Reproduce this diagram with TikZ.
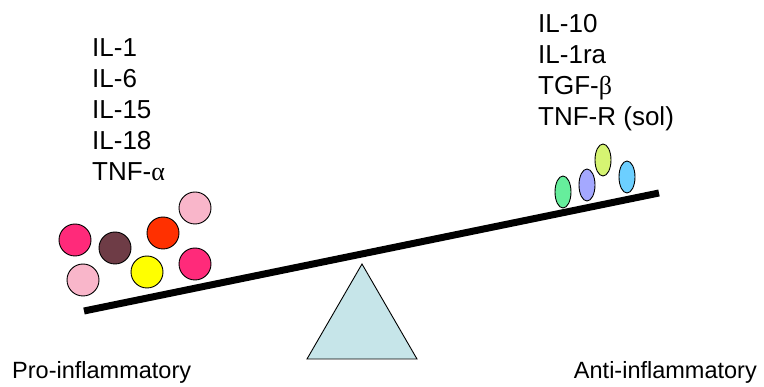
\documentclass[tikz,border=0pt]{standalone}
\usepackage{fontspec}
\setmainfont{Liberation Sans}
\newfontfamily\greekfont{Liberation Serif}
\usetikzlibrary{shapes.geometric}
\definecolor{cmagenta}{HTML}{FF2A7A}
\definecolor{cpink}{HTML}{F9B6CA}
\definecolor{cbrown}{HTML}{6E3C46}
\definecolor{cyellow}{HTML}{FFFF00}
\definecolor{cred}{HTML}{FF3000}
\definecolor{cgreen}{HTML}{66EE9C}
\definecolor{cperi}{HTML}{A4A8FF}
\definecolor{clime}{HTML}{D6F472}
\definecolor{cblue}{HTML}{6CCFFF}
\definecolor{cfulcrum}{HTML}{C6E5E9}
\begin{document}
\begin{tikzpicture}[x=1pt,y=-1pt,
  ball/.style={circle,draw=black,line width=0.9pt,minimum size=32pt,inner sep=0pt},
  egg/.style={ellipse,draw=black,line width=0.9pt,minimum width=16pt,minimum height=32pt,inner sep=0pt},
  cytolist/.style={anchor=north west,align=left,inner sep=0pt,font=\fontsize{26}{31}\selectfont},
  caption/.style={inner sep=0pt,font=\fontsize{23.5}{28}\selectfont}]
\useasboundingbox (0,0) rectangle (764,387);

% fulcrum
\draw[fill=cfulcrum,line width=0.9pt,line join=miter] (362,264) -- (417,359) -- (307,359) -- cycle;

% beam
\coordinate (beamL) at (84,311);
\coordinate (beamR) at (659,193);
\draw[line width=7pt] (beamL) -- (beamR);

% pro-inflammatory cytokines
\node[ball,fill=cmagenta] (p1) at (75,240) {};
\node[ball,fill=cpink]    (p2) at (83,280) {};
\node[ball,fill=cbrown]   (p3) at (115,248) {};
\node[ball,fill=cyellow]  (p4) at (147,272) {};
\node[ball,fill=cred]     (p5) at (163,233) {};
\node[ball,fill=cpink]    (p6) at (195,208) {};
\node[ball,fill=cmagenta] (p7) at (195,264) {};

% anti-inflammatory cytokines
\node[egg,fill=cgreen] (a1) at (563,192) {};
\node[egg,fill=cperi]  (a2) at (587,185) {};
\node[egg,fill=clime]  (a3) at (603,160) {};
\node[egg,fill=cblue]  (a4) at (627,177) {};

% labels
\node[cytolist] (prolist) at (92,38.4) {IL-1\\IL-6\\IL-15\\IL-18\\TNF-{\greekfont α}};
\node[cytolist] (antilist) at (538,14.4) {IL-10\\IL-1ra\\TGF-{\greekfont β}\\TNF-R (sol)};
\node[caption,anchor=base west] (procap) at (12,379) {Pro-inflammatory};
\node[caption,anchor=base east] (anticap) at (757,379) {Anti-inflammatory};
\end{tikzpicture}
\end{document}
